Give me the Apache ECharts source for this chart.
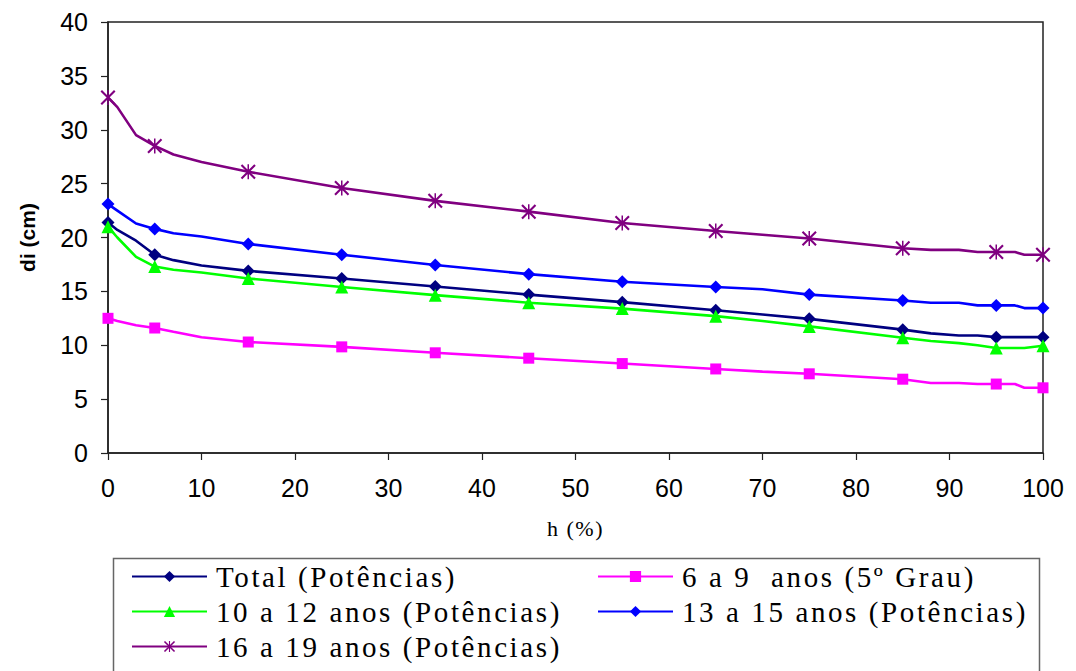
<!DOCTYPE html>
<html>
<head>
<meta charset="utf-8">
<script src="https://cdn.jsdelivr.net/npm/echarts@6/dist/echarts.min.js"></script>
<style>
  html, body { margin: 0; padding: 0; background: #fff; }
  #chart { width: 1076px; height: 671px; }
  /* legend entries are set wide, like the original spreadsheet output */
  #chart text { white-space: pre; }
  #chart text[style*="29px"][style*="Serif"] { letter-spacing: 2.6px; }
  #chart text[style*="22px"][style*="Serif"] { letter-spacing: 1.5px; }
</style>
</head>
<body>
<div id="chart"></div>
<script>
// relative height along the stem (%)
const hPos = [0, 1, 3, 5, 7, 10, 15, 25, 35, 45, 55, 65, 70, 75, 85, 88, 91, 93, 95, 97, 98, 100];
// heights that carry a marker
const markedH = [0, 5, 15, 25, 35, 45, 55, 65, 75, 85, 95, 100];

// diameter di (cm) at each height
const total = [21.4, 20.7, 19.7, 18.4, 17.9, 17.4, 16.9, 16.2, 15.45, 14.7, 14.0, 13.25, 12.85, 12.45, 11.45, 11.1, 10.9, 10.9, 10.75, 10.75, 10.75, 10.75];
const age6to9 = [12.5, 12.25, 11.85, 11.6, 11.25, 10.75, 10.3, 9.85, 9.3, 8.8, 8.3, 7.8, 7.55, 7.35, 6.85, 6.5, 6.5, 6.4, 6.4, 6.4, 6.05, 6.05];
const age10to12 = [21.0, 20.0, 18.2, 17.3, 17.0, 16.75, 16.2, 15.4, 14.65, 13.95, 13.4, 12.7, 12.25, 11.75, 10.7, 10.4, 10.2, 10.0, 9.75, 9.75, 9.75, 9.95];
const age13to15 = [23.1, 22.5, 21.3, 20.8, 20.4, 20.1, 19.4, 18.4, 17.45, 16.6, 15.9, 15.4, 15.2, 14.7, 14.15, 13.95, 13.95, 13.7, 13.7, 13.7, 13.45, 13.45];
const age16to19 = [33.0, 32.1, 29.5, 28.5, 27.7, 27.0, 26.1, 24.6, 23.4, 22.4, 21.35, 20.6, 20.25, 19.9, 19.0, 18.85, 18.85, 18.65, 18.65, 18.65, 18.4, 18.4];

const seriesNames = [
  'Total (Potências)',
  '6 a 9  anos (5º Grau)',
  '10 a 12 anos (Potências)',
  '13 a 15 anos (Potências)',
  '16 a 19 anos (Potências)'
];

const xTicks = { min: 0, max: 100, interval: 10 };
const yTicks = { min: 0, max: 40, interval: 5 };

// six-spoke star marker: vertical bar plus two diagonals
const starPath = 'path://M-1,-10L1,-10L1,10L-1,10Z' +
  'M-8,-10L10,8L8,10L-10,-8Z' +
  'M10,-8L-8,10L-10,8L8,-10Z';

function buildData(values) {
  return hPos.map((h, i) => {
    const item = { value: [h, values[i]] };
    if (markedH.indexOf(h) < 0) item.symbol = 'none';
    return item;
  });
}

function lineSeries(name, values, color, symbol, size) {
  return {
    name: name,
    type: 'line',
    data: buildData(values),
    symbol: symbol,
    symbolSize: size,
    showSymbol: true,
    showAllSymbol: true,
    smooth: false,
    lineStyle: { color: color, width: 2.6 },
    itemStyle: { color: color },
    emphasis: { disabled: true },
    z: 3
  };
}

const axisFont = { fontFamily: 'Liberation Sans', fontSize: 25, color: '#000' };
const legendText = { fontFamily: 'Liberation Serif', fontSize: 29, color: '#000', padding: [0, 0, 0, 4] };

const chart = echarts.init(document.getElementById('chart'), null, { renderer: 'svg' });

chart.setOption({
  animation: false,
  backgroundColor: '#fff',
  grid: {
    left: 108, right: 33, top: 22, bottom: 218,
    show: true, borderColor: '#222', borderWidth: 1.5, backgroundColor: 'transparent'
  },
  xAxis: {
    type: 'value',
    min: xTicks.min, max: xTicks.max, interval: xTicks.interval,
    name: 'h (%)',
    nameLocation: 'middle',
    nameGap: 64,
    nameTextStyle: { fontFamily: 'Liberation Serif', fontSize: 22, color: '#000' },
    axisLine: { lineStyle: { color: '#222', width: 1.5 } },
    axisTick: { show: true, inside: false, length: 7, lineStyle: { color: '#222', width: 1.2 } },
    axisLabel: Object.assign({ margin: 22 }, axisFont),
    splitLine: { show: false }
  },
  yAxis: {
    type: 'value',
    min: yTicks.min, max: yTicks.max, interval: yTicks.interval,
    name: 'di (cm)',
    nameLocation: 'middle',
    nameRotate: 90,
    nameGap: 70,
    nameTextStyle: { fontFamily: 'Liberation Sans', fontSize: 21, fontWeight: 'bold', color: '#000' },
    axisLine: { show: true, lineStyle: { color: '#222', width: 1.5 } },
    axisTick: { show: true, inside: false, length: 7, lineStyle: { color: '#222', width: 1.2 } },
    axisLabel: Object.assign({ margin: 20 }, axisFont),
    splitLine: { show: false }
  },
  legend: [
    {
      orient: 'vertical', left: 131, top: 562, padding: 0,
      itemWidth: 75, itemHeight: 14, itemGap: 6,
      data: [seriesNames[0], seriesNames[2], seriesNames[4]],
      textStyle: legendText, selectedMode: false
    },
    {
      orient: 'vertical', left: 597, top: 562, padding: 0,
      itemWidth: 75, itemHeight: 14, itemGap: 6,
      data: [seriesNames[1], seriesNames[3]],
      textStyle: legendText, selectedMode: false
    }
  ],
  graphic: [
    {
      type: 'rect', left: 111, top: 556, z: -1,
      shape: { width: 926, height: 130 },
      style: { fill: 'none', stroke: '#666', lineWidth: 1.5 }
    }
  ],
  series: [
    lineSeries(seriesNames[0], total, '#000080', 'diamond', 13),
    lineSeries(seriesNames[1], age6to9, '#FF00FF', 'rect', 11),
    lineSeries(seriesNames[2], age10to12, '#00FF00', 'triangle', 13),
    lineSeries(seriesNames[3], age13to15, '#0000FF', 'diamond', 13),
    lineSeries(seriesNames[4], age16to19, '#800080', starPath, 15)
  ]
});
</script>
</body>
</html>
